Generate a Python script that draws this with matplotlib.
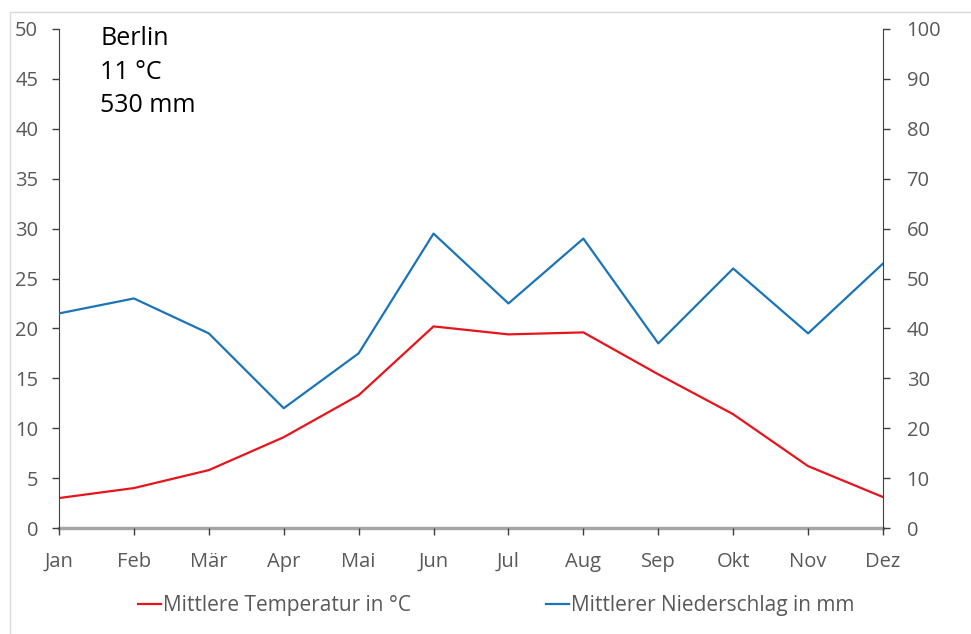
import matplotlib.pyplot as plt
from matplotlib.patches import Rectangle

plt.rcParams['font.family'] = ['Open Sans', 'DejaVu Sans']

monate = ['Jan', 'Feb', 'Mär', 'Apr', 'Mai', 'Jun', 'Jul', 'Aug', 'Sep', 'Okt', 'Nov', 'Dez']
temperatur = [3.0, 4.0, 5.8, 9.1, 13.3, 20.2, 19.4, 19.6, 15.4, 11.4, 6.2, 3.1]
niederschlag = [43, 46, 39, 24, 35, 59, 45, 58, 37, 52, 39, 53]

grau = '#595959'

fig = plt.figure(figsize=(9.71, 6.34), dpi=100)
fig.patches.append(Rectangle((10 / 971, -0.1), 1.2, 1 - 12 / 634 + 0.1,
                             transform=fig.transFigure, fill=False,
                             edgecolor='#d9d9d9', linewidth=1))
ax = fig.add_axes([59 / 971, 1 - 528 / 634, (883 - 59) / 971, (528 - 29) / 634])
ax2 = ax.twinx()

x = range(len(monate))
l1, = ax.plot(x, temperatur, color='#e8141c', linewidth=1.6, label='Mittlere Temperatur in °C')
l2, = ax2.plot(x, niederschlag, color='#1a74b8', linewidth=1.6, label='Mittlerer Niederschlag in mm')

ax.set_xlim(0, 11)
ax.set_ylim(0, 50)
ax2.set_ylim(0, 100)
ax.set_yticks(range(0, 51, 5))
ax2.set_yticks(range(0, 101, 10))
ax.set_xticks(list(x))
ax.set_xticklabels(monate)

for a in (ax, ax2):
    a.spines['top'].set_visible(False)
    a.spines['bottom'].set_visible(False)
    a.spines['left'].set_color('#404040')
    a.spines['right'].set_color('#404040')
    a.tick_params(labelsize=14.5, labelcolor=grau, color='#404040', length=5, width=1)
ax.tick_params(axis='y', pad=10)
ax2.tick_params(axis='y', pad=12)
ax.tick_params(axis='x', pad=12)
ax2.spines['left'].set_visible(False)
ax.spines['right'].set_visible(False)
ax.axhline(0, color='#a6a6a6', linewidth=2.5, clip_on=False, zorder=1)

fig.text(100 / 971, 1 - 26 / 634, 'Berlin\n11 °C\n530 mm',
         fontsize=18, va='top', ha='left', linespacing=1.45, color='black')

fig.legend(handles=[l1, l2], loc='center', bbox_to_anchor=(0.511, 1 - 606 / 634),
           ncol=2, frameon=False, fontsize=15, handlelength=1.1, handletextpad=0.1,
           columnspacing=6.5, labelcolor=grau)

fig.savefig('out.png', dpi=100)
